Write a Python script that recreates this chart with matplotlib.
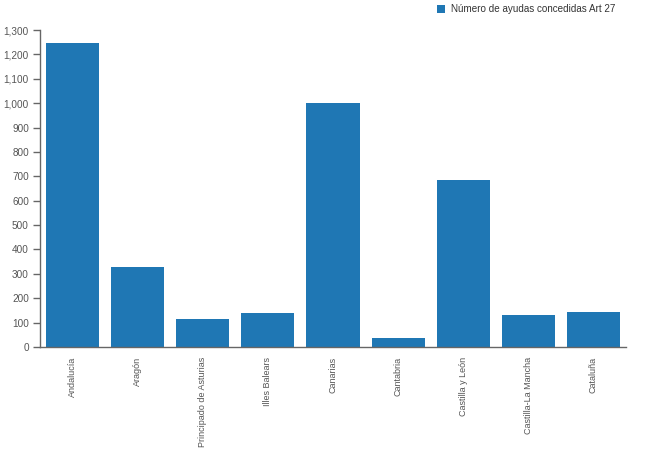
import matplotlib
matplotlib.use("Agg")
import matplotlib.pyplot as plt
from matplotlib.patches import Rectangle
from matplotlib.ticker import FuncFormatter

plt.rcParams["font.family"] = ["Liberation Sans", "DejaVu Sans"]

categories = ["Andalucía", "Aragón", "Principado de Asturias", "Illes Balears",
              "Canarias", "Cantabria", "Castilla y León", "Castilla-La Mancha", "Cataluña"]
values = [1247, 328, 115, 139, 1001, 37, 685, 131, 144]
series_name = "Número de ayudas concedidas Art 27"
yticks = list(range(0, 1301, 100))

bar_color = "#1f77b4"
text_color = "#555555"
axis_color = "#666666"

fig = plt.figure(figsize=(6.64, 4.72), dpi=100)
ax = fig.add_axes([40/664, 1-347/472, 586/664, 317/472])

x = list(range(len(categories)))
ax.bar(x, values, width=0.815, color=bar_color)
ax.set_xlim(-0.5, len(categories)-0.5)
ax.set_ylim(0, 1300)
ax.set_yticks(yticks)
ax.yaxis.set_major_formatter(FuncFormatter(lambda v, p: f"{int(v):,}"))
ax.set_xticks(x)
ax.set_xticklabels(categories, rotation=90, va="top", ha="center")
ax.tick_params(axis="x", length=0, pad=7, labelsize=6.5, labelcolor=text_color, colors=axis_color)
ax.tick_params(axis="y", length=5, width=1, pad=3, labelsize=7.2, labelcolor=text_color, colors=axis_color)

for s in ["top", "right"]:
    ax.spines[s].set_visible(False)
for s in ["left", "bottom"]:
    ax.spines[s].set_color(axis_color)
    ax.spines[s].set_linewidth(1)

fig.patches.append(Rectangle((437/664, 1-13/472), 8/664, 8/472, transform=fig.transFigure,
                             facecolor=bar_color, edgecolor="none"))
fig.text(451/664, 1-9/472, series_name, fontsize=7.1, color="#333333", va="center", ha="left")

fig.savefig("out.png", dpi=100)
